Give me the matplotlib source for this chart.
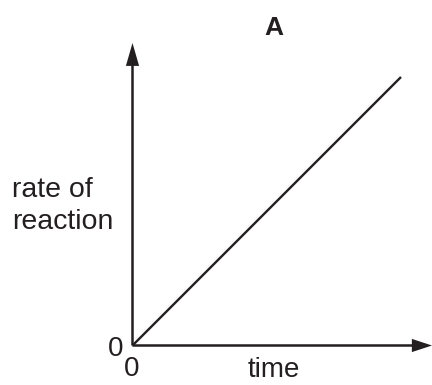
import matplotlib
matplotlib.use('Agg')
import matplotlib.pyplot as plt

plt.rcParams['font.family'] = ['Liberation Sans', 'DejaVu Sans']

# data: rate rises in proportion to time
time = [0, 10]
rate = [0, 10]
title = 'A'
xlabel = 'time'
ylabel = 'rate of\nreaction'

ink = '#231f20'
W, H = 432, 385

fig = plt.figure(figsize=(W / 100, H / 100), dpi=100, facecolor='white')

# axes box: origin at (132, 345) px, x arrow tip at 432, y arrow tip at 43
x0, y0 = 132.5, 345.5
ax = fig.add_axes([x0 / W, (H - y0) / H, (432 - x0) / W, (y0 - 43) / H])
ax.set_xlim(0, 10 * (432 - x0) / (401 - x0))
ax.set_ylim(0, 10 * (y0 - 43) / (y0 - 77))
ax.axis('off')

ax.plot(time, rate, color=ink, lw=1.7, solid_capstyle='butt', clip_on=False)

# axis arrows
ax.annotate('', xy=(1, 0), xytext=(0, 0), xycoords='axes fraction',
            arrowprops=dict(width=1.8, headwidth=9.5, headlength=14.5, shrink=0,
                            facecolor=ink, edgecolor='none'))
ax.annotate('', xy=(0, 1), xytext=(0, 0), xycoords='axes fraction',
            arrowprops=dict(width=1.8, headwidth=9.5, headlength=16.5, shrink=0,
                            facecolor=ink, edgecolor='none'))

# labels, placed in pixel terms
def px(x, y):
    return x / W, 1 - y / H

fig.text(*px(274, 28), title, fontsize=19, fontweight='bold', color=ink,
         ha='center', va='center')
fig.text(*px(12, 206), ylabel, fontsize=20.5, color=ink, ha='left', va='center',
         linespacing=1.3)
fig.text(*px(116, 349), '0', fontsize=20, color=ink, ha='center', va='center')
fig.text(*px(132, 369), '0', fontsize=20, color=ink, ha='center', va='center')
fig.text(*px(274, 377), xlabel, fontsize=20, color=ink, ha='center', va='baseline')

fig.savefig('out.png', dpi=100, facecolor='white')
